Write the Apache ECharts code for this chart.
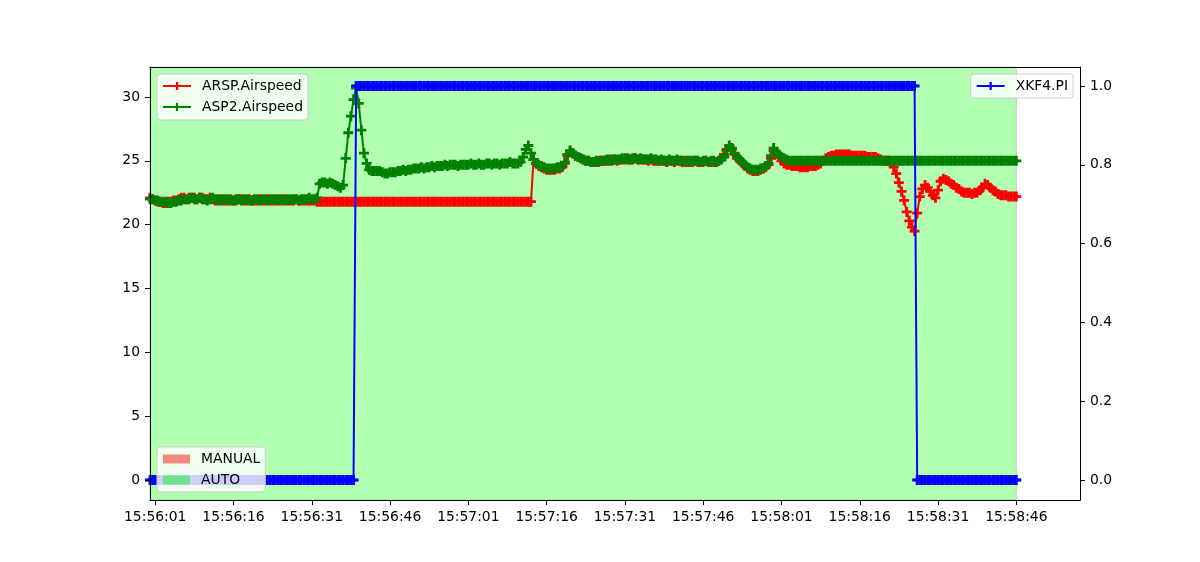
<!DOCTYPE html>
<html>
<head>
<meta charset="utf-8">
<script src="https://cdn.jsdelivr.net/npm/echarts@6/dist/echarts.min.js"></script>
<style>
html,body{margin:0;padding:0;background:#fff;}
#chart{width:1200px;height:562px;}
</style>
</head>
<body>
<div id="chart"></div>
<script>
// ---- data (sampled every 0.5 s from 15:56:00) ----
const startClock = '15:56:00';
const sampleStep = 0.5;
const xTickLabels = ['15:56:01','15:56:16','15:56:31','15:56:46','15:57:01','15:57:16','15:57:31','15:57:46','15:58:01','15:58:16','15:58:31','15:58:46'];
const leftTicks = [0, 5, 10, 15, 20, 25, 30];
const rightTicks = [0.0, 0.2, 0.4, 0.6, 0.8, 1.0];
const seriesNames = ['ARSP.Airspeed', 'ASP2.Airspeed', 'XKF4.PI'];
const modeNames = ['MANUAL', 'AUTO'];
const modeSpans = [{mode: 'AUTO', from: '15:56:00', to: '15:58:46'}];

const arspAirspeed = [
22.1,22.0,21.9,21.8,21.8,21.7,21.7,21.8,21.8,21.9,
21.9,22.0,22.1,22.1,22.0,22.1,22.1,22.1,22.0,22.1,
22.1,22.0,22.0,22.1,22.0,21.9,21.9,22.0,21.9,21.9,
21.9,22.0,21.9,21.9,22.0,22.0,21.9,21.9,22.0,21.9,
21.9,21.9,22.0,21.9,21.9,22.0,21.9,21.9,21.9,22.0,
21.9,21.9,22.0,21.9,21.9,21.9,22.0,21.9,21.9,21.9,
21.9,21.9,21.9,21.9,21.8,21.8,21.8,21.8,21.8,21.8,
21.8,21.8,21.8,21.8,21.8,21.8,21.8,21.8,21.8,21.8,
21.8,21.8,21.8,21.8,21.8,21.8,21.8,21.8,21.8,21.8,
21.8,21.8,21.8,21.8,21.8,21.8,21.8,21.8,21.8,21.8,
21.8,21.8,21.8,21.8,21.8,21.8,21.8,21.8,21.8,21.8,
21.8,21.8,21.8,21.8,21.8,21.8,21.8,21.8,21.8,21.8,
21.8,21.8,21.8,21.8,21.8,21.8,21.8,21.8,21.8,21.8,
21.8,21.8,21.8,21.8,21.8,21.8,21.8,21.8,21.8,21.8,
21.8,21.8,21.8,21.8,21.8,21.8,21.8,25.1,24.8,24.6,
24.5,24.4,24.3,24.3,24.3,24.3,24.4,24.4,24.5,24.8,
25.4,25.7,25.6,25.4,25.3,25.2,25.1,25.0,25.0,24.9,
24.9,24.9,25.0,25.0,25.0,25.0,25.1,25.0,25.1,25.0,
25.1,25.1,25.2,25.1,25.1,25.1,25.2,25.1,25.1,25.1,
25.1,25.0,25.1,25.0,25.0,25.0,25.0,25.0,24.9,25.0,
25.0,24.9,25.0,25.0,24.9,24.9,25.0,24.9,24.9,25.0,
24.9,24.9,24.9,25.0,24.9,24.9,24.9,24.9,25.0,25.2,
25.5,25.9,26.1,25.9,25.5,25.2,25.0,24.8,24.6,24.4,
24.3,24.2,24.2,24.2,24.3,24.4,24.5,24.7,25.2,25.8,
25.6,25.3,25.0,24.8,24.7,24.7,24.6,24.6,24.6,24.5,
24.5,24.5,24.5,24.6,24.6,24.6,24.7,24.8,25.0,25.2,
25.3,25.4,25.4,25.5,25.5,25.5,25.5,25.5,25.5,25.4,
25.4,25.4,25.4,25.4,25.4,25.3,25.3,25.3,25.3,25.2,
25.1,25.0,25.0,25.0,24.9,24.5,24.0,23.3,22.6,21.9,
21.0,20.3,19.8,19.5,20.9,22.2,22.8,23.1,22.9,22.6,
22.3,22.1,22.7,23.4,23.6,23.5,23.4,23.2,23.1,22.9,
22.8,22.6,22.5,22.5,22.5,22.4,22.5,22.5,22.7,22.9,
23.2,23.1,22.9,22.7,22.6,22.4,22.3,22.3,22.3,22.2,
22.2,22.2,22.2
];

const asp2Airspeed = [
22.0,22.0,21.9,21.9,21.8,21.8,21.8,21.7,21.7,21.8,
21.8,21.9,21.9,22.0,22.0,22.0,22.1,22.0,22.0,22.1,
22.0,22.0,21.9,22.0,22.1,22.0,22.0,21.9,22.0,22.0,
22.0,21.9,21.9,22.0,22.0,21.9,22.0,22.0,21.9,21.9,
22.0,22.0,21.9,22.0,22.0,21.9,22.0,22.0,22.0,21.9,
22.0,22.0,21.9,22.0,22.0,22.0,22.0,21.9,22.0,22.0,
22.0,22.1,22.0,22.0,22.1,23.2,23.3,23.3,23.2,23.3,
23.2,23.1,23.0,22.9,23.1,25.2,27.2,28.5,29.8,30.7,
29.5,27.4,25.6,24.8,24.3,24.2,24.2,24.2,24.2,24.1,
24.0,24.0,24.1,24.1,24.1,24.2,24.2,24.3,24.2,24.3,
24.3,24.4,24.4,24.4,24.5,24.4,24.5,24.5,24.6,24.5,
24.6,24.6,24.6,24.7,24.6,24.7,24.7,24.7,24.6,24.7,
24.7,24.7,24.7,24.8,24.7,24.7,24.8,24.7,24.7,24.8,
24.8,24.7,24.8,24.8,24.7,24.8,24.8,24.8,24.9,24.8,
24.8,24.8,24.9,25.3,25.9,26.2,25.6,25.1,24.8,24.7,
24.6,24.5,24.4,24.4,24.4,24.4,24.5,24.5,24.6,24.9,
25.5,25.8,25.6,25.4,25.3,25.2,25.1,25.0,25.0,24.9,
24.9,25.0,24.9,25.0,25.0,25.1,25.0,25.1,25.1,25.1,
25.1,25.2,25.1,25.2,25.1,25.2,25.2,25.1,25.2,25.1,
25.1,25.1,25.2,25.1,25.1,25.0,25.1,25.0,25.0,25.1,
25.0,25.0,25.1,25.0,25.0,25.0,24.9,25.0,25.0,25.0,
25.0,24.9,25.0,25.0,24.9,25.0,25.0,24.9,25.0,25.1,
25.3,25.8,26.2,26.0,25.6,25.3,25.1,24.9,24.7,24.5,
24.4,24.3,24.3,24.3,24.4,24.4,24.6,24.8,25.4,26.0,
25.7,25.5,25.3,25.2,25.1,25.0,25.0,25.0,25.0,25.0,
25.0,25.0,25.0,25.0,25.0,25.0,25.0,25.0,25.0,25.0,
25.0,25.0,25.0,25.0,25.0,25.0,25.0,25.0,25.0,25.0,
25.0,25.0,25.0,25.0,25.0,25.0,25.0,25.0,25.0,25.0,
25.0,25.0,25.0,25.0,25.0,25.0,25.0,25.0,25.0,25.0,
25.0,25.0,25.0,25.0,25.0,25.0,25.0,25.0,25.0,25.0,
25.0,25.0,25.0,25.0,25.0,25.0,25.0,25.0,25.0,25.0,
25.0,25.0,25.0,25.0,25.0,25.0,25.0,25.0,25.0,25.0,
25.0,25.0,25.0,25.0,25.0,25.0,25.0,25.0,25.0,25.0,
25.0,25.0,25.0
];

const xkf4PI = [
0,0,0,0,0,0,0,0,0,0,
0,0,0,0,0,0,0,0,0,0,
0,0,0,0,0,0,0,0,0,0,
0,0,0,0,0,0,0,0,0,0,
0,0,0,0,0,0,0,0,0,0,
0,0,0,0,0,0,0,0,0,0,
0,0,0,0,0,0,0,0,0,0,
0,0,0,0,0,0,0,0,0,1,
1,1,1,1,1,1,1,1,1,1,
1,1,1,1,1,1,1,1,1,1,
1,1,1,1,1,1,1,1,1,1,
1,1,1,1,1,1,1,1,1,1,
1,1,1,1,1,1,1,1,1,1,
1,1,1,1,1,1,1,1,1,1,
1,1,1,1,1,1,1,1,1,1,
1,1,1,1,1,1,1,1,1,1,
1,1,1,1,1,1,1,1,1,1,
1,1,1,1,1,1,1,1,1,1,
1,1,1,1,1,1,1,1,1,1,
1,1,1,1,1,1,1,1,1,1,
1,1,1,1,1,1,1,1,1,1,
1,1,1,1,1,1,1,1,1,1,
1,1,1,1,1,1,1,1,1,1,
1,1,1,1,1,1,1,1,1,1,
1,1,1,1,1,1,1,1,1,1,
1,1,1,1,1,1,1,1,1,1,
1,1,1,1,1,1,1,1,1,1,
1,1,1,1,1,1,1,1,1,1,
1,1,1,1,1,1,1,1,1,1,
1,1,1,1,0,0,0,0,0,0,
0,0,0,0,0,0,0,0,0,0,
0,0,0,0,0,0,0,0,0,0,
0,0,0,0,0,0,0,0,0,0,
0,0,0
];

// ---- helpers ----
function clockToSec(s) {
  const p = s.split(':').map(Number);
  return p[0] * 3600 + p[1] * 60 + p[2];
}
const base = clockToSec(startClock);
function rel(s) { return clockToSec(s) - base; }
function secToClock(v) {
  const t = Math.round(base + v);
  const h = Math.floor(t / 3600), m = Math.floor((t % 3600) / 60), s = t % 60;
  const pad = n => String(n).padStart(2, '0');
  return pad(h) + ':' + pad(m) + ':' + pad(s);
}
const xTickVals = xTickLabels.map(rel);

const FONT = 'DejaVu Sans';
const FS = 13.9;
const X_MIN = 0, X_MAX = 178.2;
const YL_MIN = -1.567, YL_MAX = 32.35;
const YR_MIN = -0.0508, YR_MAX = 1.0482;

const plusSymbol = 'path://M0,36L100,36L100,64L0,64Z M36,0L64,0L64,100L36,100Z';

function lineSeries(name, vals, color, yIdx, z) {
  return {
    name: name, type: 'line', yAxisIndex: yIdx, z: z,
    data: vals.map((v, i) => [i * sampleStep, v]),
    symbol: plusSymbol, symbolSize: 10,
    showSymbol: true, showAllSymbol: true,
    itemStyle: {color: color},
    lineStyle: {color: color, width: 2},
    emphasis: {disabled: true},
    silent: true, animation: false
  };
}

const modeColors = {MANUAL: '#f4877e', AUTO: '#6fe28b'};
const modeFill = {MANUAL: 'rgba(255,0,0,0.3)', AUTO: 'rgba(0,255,0,0.3)'};

const modeSeries = modeNames.map(m => ({
  name: m, type: 'line', data: [], z: 1,
  itemStyle: {color: modeColors[m]},
  silent: true, animation: false,
  markArea: {
    silent: true,
    itemStyle: {color: modeFill[m], borderColor: 'rgba(0,0,0,0.18)', borderWidth: 1},
    data: modeSpans.filter(s => s.mode === m).map(s => [{xAxis: rel(s.from)}, {xAxis: rel(s.to)}])
  }
}));

const axisLineStyle = {color: '#000', width: 1};
const labelStyle = {color: '#000', fontSize: FS, fontFamily: FONT};

const legendCommon = {
  orient: 'vertical', itemGap: 7,
  backgroundColor: 'rgba(255,255,255,0.8)', borderColor: '#cccccc', borderWidth: 1, borderRadius: 3,
  textStyle: {color: '#000', fontSize: FS, fontFamily: FONT, padding: [0, 0, 0, 6]},
  selectedMode: false
};

const option = {
  animation: false,
  backgroundColor: '#ffffff',
  textStyle: {fontFamily: FONT},
  grid: {left: 150, right: 120, top: 67, bottom: 62, containLabel: false},
  xAxis: [
    {
      type: 'value', min: X_MIN, max: X_MAX, z: 5,
      axisLine: {show: true, onZero: false, lineStyle: axisLineStyle},
      axisTick: {show: true, customValues: xTickVals, length: 5, lineStyle: axisLineStyle},
      axisLabel: Object.assign({customValues: xTickVals, margin: 10, formatter: v => secToClock(v)}, labelStyle),
      splitLine: {show: false}
    },
    {
      type: 'value', position: 'top', min: X_MIN, max: X_MAX, z: 5,
      axisLine: {show: true, onZero: false, lineStyle: axisLineStyle},
      axisTick: {show: false}, axisLabel: {show: false}, splitLine: {show: false}
    }
  ],
  yAxis: [
    {
      type: 'value', position: 'left', min: YL_MIN, max: YL_MAX, z: 5,
      axisLine: {show: true, onZero: false, lineStyle: axisLineStyle},
      axisTick: {show: true, customValues: leftTicks, length: 5, lineStyle: axisLineStyle},
      axisLabel: Object.assign({customValues: leftTicks, margin: 10}, labelStyle),
      splitLine: {show: false}
    },
    {
      type: 'value', position: 'right', min: YR_MIN, max: YR_MAX, z: 5,
      axisLine: {show: true, onZero: false, lineStyle: axisLineStyle},
      axisTick: {show: true, customValues: rightTicks, length: 5, lineStyle: axisLineStyle},
      axisLabel: Object.assign({customValues: rightTicks, margin: 10, formatter: v => Number(v).toFixed(1)}, labelStyle),
      splitLine: {show: false}
    }
  ],
  legend: [
    Object.assign({}, legendCommon, {
      data: [seriesNames[0], seriesNames[1]], left: 157, top: 74,
      padding: [5, 5, 6, 5], itemWidth: 28, itemHeight: 10
    }),
    Object.assign({}, legendCommon, {
      data: [seriesNames[2]], right: 127, top: 74,
      padding: [5, 5, 5, 5], itemWidth: 28, itemHeight: 10
    }),
    Object.assign({}, legendCommon, {
      data: modeNames, left: 157, top: 447, icon: 'rect',
      padding: [5, 5, 5, 6], itemWidth: 27, itemHeight: 9
    })
  ],
  series: modeSeries.concat([
    lineSeries(seriesNames[0], arspAirspeed, '#ff0000', 0, 2),
    lineSeries(seriesNames[1], asp2Airspeed, '#008000', 0, 2),
    lineSeries(seriesNames[2], xkf4PI, '#0000ff', 1, 3)
  ])
};

const chart = echarts.init(document.getElementById('chart'), null, {renderer: 'canvas'});
chart.setOption(option);
</script>
</body>
</html>
